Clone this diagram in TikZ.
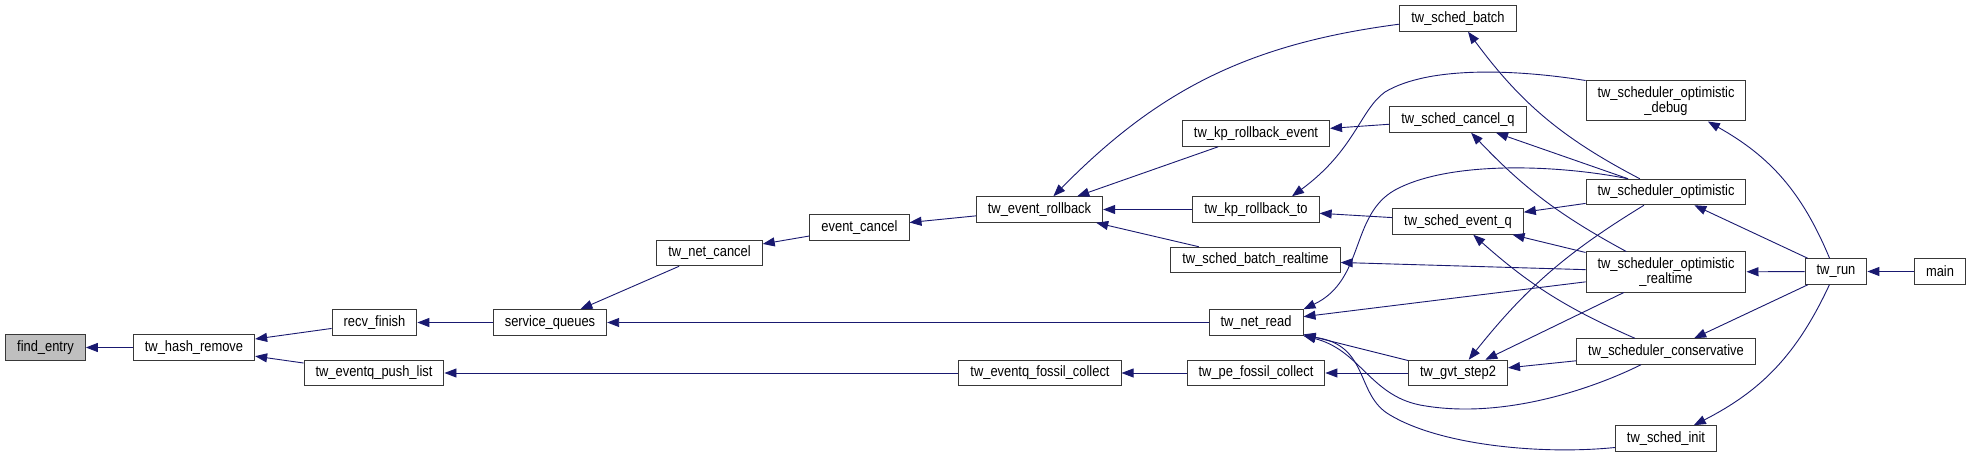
\documentclass[tikz,border=0pt]{standalone}
\usepackage{fontspec}
\setsansfont{Liberation Sans}[FakeStretch=0.86]
\usepackage{xcolor}
\usepackage{tikz}
\usetikzlibrary{arrows.meta}

\begin{document}
\begin{tikzpicture}[
  x=1pt, y=-1pt,
  font=\sffamily\fontsize{15}{15}\selectfont,
  >={Triangle[length=12pt,width=9pt]},
  fnbox/.style={
    draw=black!78,
    fill=white,
    line width=1pt,
    align=center,
    minimum height=25.5pt,
    inner xsep=11.5pt,
    inner ysep=3pt
  },
  twoline/.style={fnbox, minimum height=40pt},
  rootbox/.style={fnbox, fill=rootgray},
  call/.style={<-, line width=0.9pt, draw=midnight, fill=none}
]
\definecolor{midnight}{HTML}{191970}
\definecolor{rootgray}{HTML}{BFBFBF}

\path[use as bounding box, fill=white] (0,0) rectangle (1971,457);

\node[rootbox] (find) at (45.5,347.5) {find\_entry};
\node[fnbox] (hashrm) at (194,347.5) {tw\_hash\_remove};
\node[fnbox] (recv) at (374.5,322.5) {recv\_finish};
\node[fnbox] (pushlist) at (374,373) {tw\_eventq\_push\_list};
\node[fnbox] (servq) at (550,322.5) {service\_queues};
\node[fnbox] (netcancel) at (709.5,253) {tw\_net\_cancel};
\node[fnbox] (evcancel) at (859.5,227.5) {event\_cancel};
\node[fnbox] (rollback) at (1039.5,209.5) {tw\_event\_rollback};
\node[fnbox] (fossil) at (1040,373) {tw\_eventq\_fossil\_collect};
\node[fnbox] (kpevent) at (1256,133.5) {tw\_kp\_rollback\_event};
\node[fnbox] (kpto) at (1256,209.5) {tw\_kp\_rollback\_to};
\node[fnbox] (batchrt) at (1255.5,260) {tw\_sched\_batch\_realtime};
\node[fnbox] (netread) at (1256,322.5) {tw\_net\_read};
\node[fnbox] (pefossil) at (1256,373) {tw\_pe\_fossil\_collect};
\node[fnbox] (batch) at (1458,18.5) {tw\_sched\_batch};
\node[fnbox] (cancelq) at (1458,119.5) {tw\_sched\_cancel\_q};
\node[fnbox] (eventq) at (1458,221.5) {tw\_sched\_event\_q};
\node[fnbox] (gvt) at (1458,373) {tw\_gvt\_step2};
\node[twoline] (optdebug) at (1666,101) {tw\_scheduler\_optimistic\\\_debug};
\node[fnbox] (opt) at (1666,192) {tw\_scheduler\_optimistic};
\node[twoline] (optrt) at (1666,272) {tw\_scheduler\_optimistic\\\_realtime};
\node[fnbox] (cons) at (1666,351.5) {tw\_scheduler\_conservative};
\node[fnbox] (schedinit) at (1666,438.5) {tw\_sched\_init};
\node[fnbox] (run) at (1836,271.5) {tw\_run};
\node[fnbox] (main) at (1940,271.5) {main};

\draw[call] (find) -- (hashrm);
\draw[call] (hashrm) -- (recv);
\draw[call] (hashrm) -- (pushlist);
\draw[call] (recv) -- (servq);
\draw[call] (pushlist) -- (fossil);
\draw[call] (servq) -- (netcancel);
\draw[call] (servq) -- (netread);
\draw[call] (netcancel) -- (evcancel);
\draw[call] (evcancel) -- (rollback);
\draw[call] (fossil) -- (pefossil);
\draw[call] (rollback) to[bend left=19] (batch);
\draw[call] (rollback) -- (kpevent);
\draw[call] (rollback) -- (kpto);
\draw[call] (rollback) -- (batchrt);
\draw[call] (kpevent) -- (cancelq);
\draw[call] (kpto) -- (eventq);
\draw[call] ([xshift=36pt]kpto.north) .. controls (1355,150) and (1360,110) .. (1385,92)
  .. controls (1430,65) and (1520,70) .. (optdebug.north west);
\draw[call] (batchrt) -- (optrt);
\draw[call] (netread.north east) .. controls (1365,280) and (1350,215) .. (1395,190)
  .. controls (1450,160) and (1560,165) .. ([xshift=-38pt]opt.north);
\draw[call] (netread) -- (optrt);
\draw[call] (netread) -- (gvt);
\draw[call] (netread.south east) .. controls (1360,350) and (1370,395) .. (1420,405)
  .. controls (1500,420) and (1590,390) .. ([xshift=-25pt]cons.south);
\draw[call] (netread.south east) .. controls (1370,345) and (1355,395) .. (1390,415)
  .. controls (1440,445) and (1540,455) .. (schedinit.190);
\draw[call] (pefossil) -- (gvt);
\draw[call] (batch) to[bend right=13] (opt);
\draw[call] (cancelq) -- (opt);
\draw[call] (cancelq) to[bend right=9] (optrt);
\draw[call] (eventq) -- (opt);
\draw[call] (eventq) -- (optrt);
\draw[call] (eventq) to[bend right=9] (cons);
\draw[call] (gvt) to[bend left=10] (opt);
\draw[call] (gvt) -- (optrt);
\draw[call] (gvt) -- (cons);
\draw[call] (optdebug) to[bend left=19] (run);
\draw[call] (opt) -- (run);
\draw[call] (optrt) -- (run);
\draw[call] (cons) -- (run);
\draw[call] (schedinit) to[bend right=19] (run);
\draw[call] (run) -- (main);
\end{tikzpicture}
\end{document}
